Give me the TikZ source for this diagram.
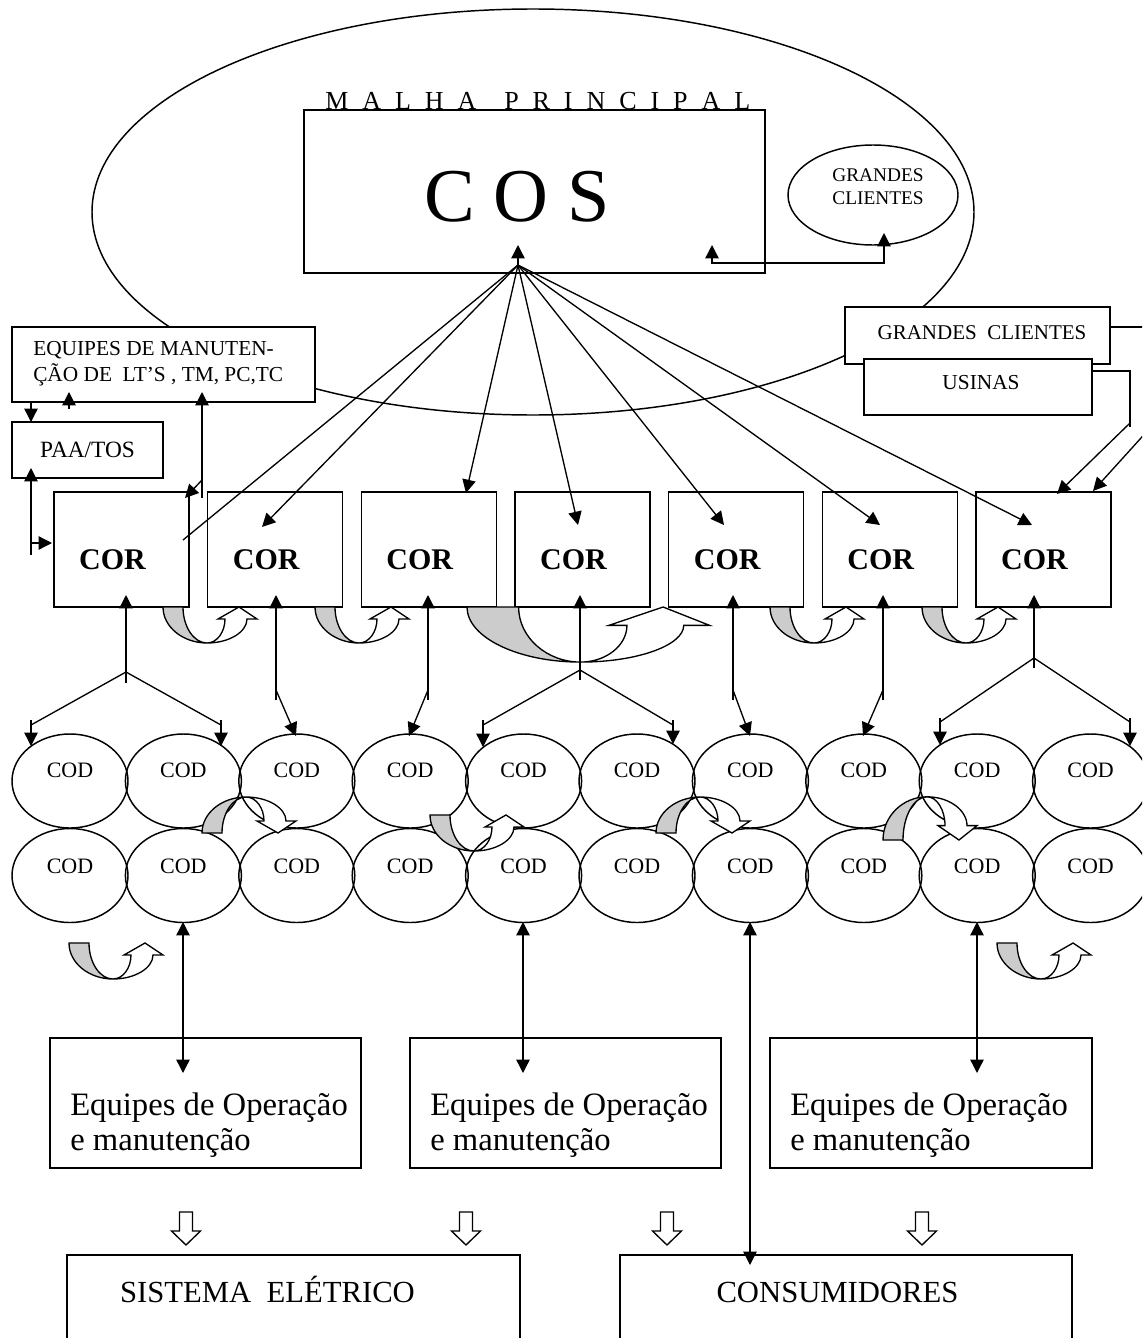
\documentclass[tikz,border=0pt]{standalone}
\usepackage{fontspec}
\setmainfont{Liberation Serif}
\usetikzlibrary{arrows.meta,shapes.geometric,calc}
\tikzset{
  box/.style={draw, line width=1.1pt, fill=white, inner sep=0pt},
  oval/.style={draw, ellipse, line width=1.1pt, inner sep=0pt},
  conn/.style={line width=1pt},
  arr/.style={line width=1pt, -{Triangle[length=10pt,width=10pt]}},
  darr/.style={line width=1pt, {Triangle[length=10pt,width=10pt]}-{Triangle[length=10pt,width=10pt]}},
  txt/.style={inner sep=0pt},
}
\newcommand\uturnshape{%
  \filldraw[fill=black!20, line width=1pt] (0,0) -- (20,0) .. controls (20,20) and (31,36) .. (44,36) .. controls (20,36) and (0,20) .. (0,0) -- cycle;
  \filldraw[fill=white, line width=1pt] (44,36) .. controls (66,36) and (84,25) .. (84,12) -- (94,12) -- (76,0) -- (55,12) -- (62,12) .. controls (62,25) and (54,36) .. (44,36) -- cycle;}
\newcommand\blockdown{%
  \draw[line width=1pt, fill=white] (-6.5,0) -- (6.5,0) -- (6.5,19) -- (14.5,19) -- (0,33) -- (-14.5,19) -- (-6.5,19) -- cycle;}
\begin{document}
\begin{tikzpicture}[x=0.75pt,y=-0.75pt]
\useasboundingbox (0,0) rectangle (1142,1338);
\fill[white] (0,0) rectangle (1142,1338);
\clip (0,0) rectangle (1142,1338);
% main ellipse
\draw[line width=1.1pt] (533,212) ellipse [x radius=330.75pt, y radius=152.25pt];
\node[txt, anchor=base west, font=\fontsize{19.5}{22}\selectfont] (malha) at (325,109) {\makebox[318.75pt][s]{M\hfil A\hfil L\hfil H\hfil A\hfil\hfil P\hfil R\hfil I\hfil N\hfil C\hfil I\hfil P\hfil A\hfil L}};
% COS
\node[box, minimum width=345.75pt, minimum height=122.25pt] (cos) at (534.5,191.5) {};
\node[txt, font=\fontsize{57}{60}\selectfont] (costxt) at (517,197) {C O S};
% grandes clientes ellipse
\node[oval, minimum width=127.5pt, minimum height=75pt] (gce) at (873,195) {};
\node[txt, align=center, font=\fontsize{14.5}{17.25}\selectfont] (gcetxt) at (878,187) {GRANDES\\CLIENTES};
\coordinate (gcA) at (712,245);
\coordinate (gcB) at (884,233);
\draw[darr] (gcA) -- (712,263) -- (884,263) -- (gcB);
% equipes / paa
\node[box, minimum width=227.25pt, minimum height=56.25pt] (eq) at (163.5,364.5) {};
\node[txt, anchor=west, align=left, font=\fontsize{16}{19.5}\selectfont] (eqtxt) at (33,364) {EQUIPES DE MANUTEN-\\ÇÃO DE\ \ LT’S , TM, PC,TC};
\node[box, minimum width=113.25pt, minimum height=42pt, font=\fontsize{17.5}{20}\selectfont] (paa) at (87.5,450) {PAA/TOS};
% grandes clientes / usinas
\node[box, minimum width=198.75pt, minimum height=42.75pt] (gcb) at (977.5,335.5) {};
\node[txt, font=\fontsize{15.75}{18}\selectfont] (gcbtxt) at (982,333) {GRANDES\ \ CLIENTES};
\node[box, minimum width=171pt, minimum height=42pt] (us) at (978,387) {};
\node[txt, font=\fontsize{16}{18}\selectfont] (ustxt) at (981,383) {USINAS};
% COR boxes
\foreach \i/\cx in {1/121.5,2/275.2,3/428.8,4/582.5,5/736.2,6/889.8,7/1043.5}{
  \node[box, minimum width=101.25pt, minimum height=86.25pt] (cor\i) at (\cx,549.5) {};
  \node[txt, font=\bfseries\fontsize{22.5}{24}\selectfont] (cortxt\i) at ({\cx-9},560) {COR};
}
% COD ellipses
\foreach \i in {0,...,9}{
  \pgfmathsetmacro\cx{70+113.4*\i}
  \node[oval, minimum width=87pt, minimum height=70.5pt] (coda\i) at (\cx,781) {};
  \node[oval, minimum width=87pt, minimum height=70.5pt] (codb\i) at (\cx,875.5) {};
  \node[txt, font=\fontsize{16.5}{18}\selectfont] (codat\i) at (\cx,770) {COD};
  \node[txt, font=\fontsize{16.5}{18}\selectfont] (codbt\i) at (\cx,866) {COD};
}
% U-turn arrows
\foreach \x in {163,315,770,922}{
  \begin{scope}[shift={(\x,607)}] \uturnshape \end{scope}
}
\begin{scope}[shift={(467,607)}, xscale=2.58, yscale=1.53] \uturnshape \end{scope}
\begin{scope}[shift={(202,833)}, yscale=-1] \uturnshape \end{scope}
\begin{scope}[shift={(656,833)}, yscale=-1] \uturnshape \end{scope}
\begin{scope}[shift={(883,840)}, yscale=-1.2] \uturnshape \end{scope}
\begin{scope}[shift={(430,815)}] \uturnshape \end{scope}
\begin{scope}[shift={(69,943)}] \uturnshape \end{scope}
\begin{scope}[shift={(997,943)}] \uturnshape \end{scope}
% COS radiating lines
\coordinate (hub) at (518,265);
\draw[arr] (hub) -- (518,245);
\draw[conn] (hub) -- (183,540);
\draw[arr] (hub) -- (262,527);
\draw[arr] (hub) -- (466,493);
\draw[arr] (hub) -- (578,525);
\draw[arr] (hub) -- (724,525);
\draw[arr] (hub) -- (880,525);
\draw[arr] (hub) -- (1032,525);
% equipes arrows
\draw[arr] (31,402) -- (31,422);
\draw[arr] (69,409) -- (69,392);
\draw[arr] (202,498) -- (202,392);
\draw[arr] (202,480) -- (185,498);
\draw[arr] (31,555) -- (31,468);
\draw[arr] (31,543) -- (52,543);
% right side
\draw[conn] (1110,327) -- (1160,327) -- (1160,417);
\draw[arr] (1160,417) -- (1093,491);
\draw[conn] (1092,371) -- (1130,371) -- (1130,427);
\draw[arr] (1130,423) -- (1057,494);
% COR -> COD
\draw[arr] (126,683) -- (126,595);
\draw[conn] (31,725) -- (126,672) -- (221,725);
\draw[arr] (31,720) -- (31,746);
\draw[arr] (221,720) -- (221,746);
\draw[arr] (276,700) -- (276,595);
\draw[arr] (276,690) -- (296,736);
\draw[arr] (428,700) -- (428,595);
\draw[arr] (428,690) -- (409,736);
\draw[arr] (580,680) -- (580,595);
\draw[conn] (483,725) -- (580,670) -- (673,725);
\draw[arr] (483,720) -- (483,747);
\draw[arr] (673,720) -- (673,744);
\draw[arr] (733,700) -- (733,595);
\draw[arr] (733,690) -- (750,736);
\draw[arr] (883,700) -- (883,595);
\draw[arr] (883,690) -- (863,736);
\draw[arr] (1034,668) -- (1034,595);
\draw[conn] (940,722) -- (1034,658) -- (1130,722);
\draw[arr] (940,718) -- (940,745);
\draw[arr] (1130,718) -- (1130,746);
% equipes de operacao boxes
\node[box, minimum width=233.25pt, minimum height=97.5pt] (opA) at (205.5,1103) {};
\node[box, minimum width=233.25pt, minimum height=97.5pt] (opB) at (565.5,1103) {};
\node[box, minimum width=241.5pt, minimum height=97.5pt] (opC) at (931,1103) {};
\foreach \n/\x in {A/70,B/430,C/790}{
  \node[txt, anchor=west, align=left, font=\fontsize{24.5}{26}\selectfont] (optxt\n) at (\x,1125) {Equipes de Operação\\e manutenção};
}
\draw[darr] (183,922) -- (183,1073);
\draw[darr] (523,922) -- (523,1073);
\draw[darr] (977,922) -- (977,1073);
% block arrows
\foreach \x in {186,466,667,922}{
  \begin{scope}[shift={(\x,1212)}] \blockdown \end{scope}
}
% bottom boxes
\node[box, minimum width=339.75pt, minimum height=108.75pt] (sis) at (293.5,1327.5) {};
\node[box, minimum width=339pt, minimum height=108.75pt] (cons) at (846,1327.5) {};
\node[txt, anchor=base, font=\fontsize{23}{25}\selectfont] (sistxt) at (267.5,1302) {SISTEMA\ \ ELÉTRICO};
\node[txt, anchor=base, font=\fontsize{23}{25}\selectfont] (constxt) at (837.5,1302) {CONSUMIDORES};
\draw[darr] (750,922) -- (750,1265);
\end{tikzpicture}
\end{document}
